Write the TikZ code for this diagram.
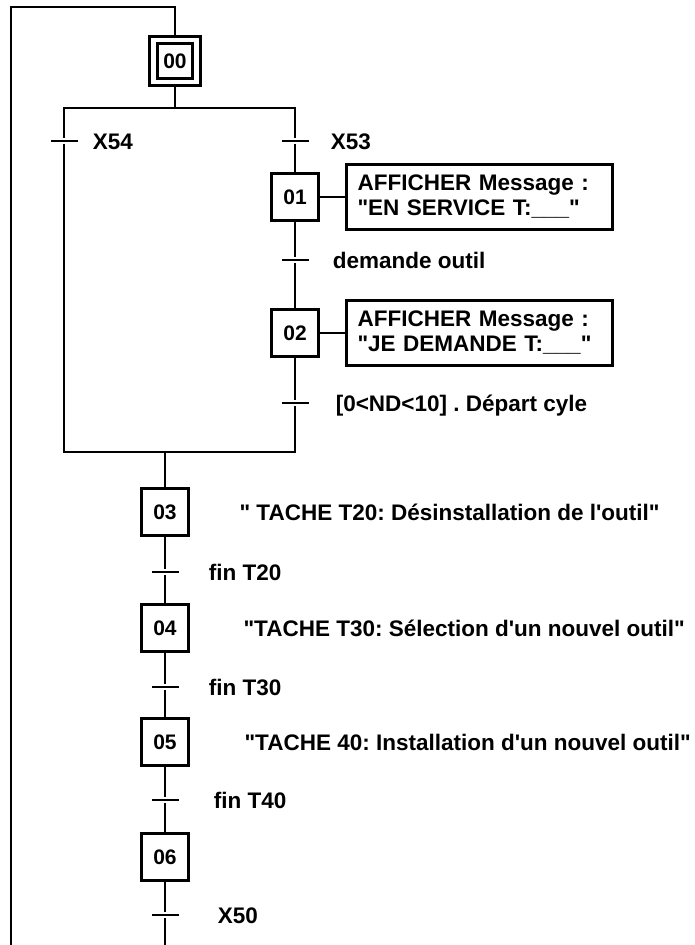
\documentclass[tikz,border=0pt]{standalone}
\usepackage{fontspec}
\newfontfamily\grafcet{Liberation Sans}
\usetikzlibrary{positioning}
\frenchspacing

\begin{document}
\begin{tikzpicture}[
  x=1pt, y=-1pt,
  font=\grafcet\fontsize{22.5}{25}\selectfont\bfseries,
  line width=2.8pt,
  etape/.style={rectangle, draw, minimum width=47.5pt, minimum height=47.5pt,
                inner sep=0pt, font=\grafcet\fontsize{21}{21}\selectfont\bfseries},
  init/.style={etape, double, double distance=4.6pt, minimum width=43pt,
               minimum height=42pt, outer sep=5.1pt},
  action/.style={rectangle, draw, align=left, text width=244pt,
                 minimum height=64pt, inner sep=11pt},
  trans/.style={rectangle, fill, minimum width=27pt, minimum height=2.8pt,
                inner sep=0pt},
  recep/.style={inner sep=0pt, text height=16pt, text depth=0pt},
  tache/.style={recep}
]
\useasboundingbox (0,0) rectangle (695,945);
\coordinate (retourH) at (11,7);
\coordinate (retourB) at (11,945);
\coordinate (divL) at (64,108);
\coordinate (divR) at (295,108);
\coordinate (convL) at (64,452);
\coordinate (convR) at (295,452);
\coordinate (fin) at (165,945);

\node[init] (s00) at (175,61) {00};
\node[trans] (t54) at (64,141) {};
\node[recep, right=12.5pt of t54] (r54) {X54};
\node[trans] (t53) at (295,141) {};
\node[recep, right=19.5pt of t53] (r53) {X53};
\node[etape] (s01) at (295,197) {01};
\node[action, right=25pt of s01] (a01) {AFFICHER Message :\\"EN SERVICE T:\_\_\_"};
\node[trans] (t1) at (295,260) {};
\node[recep, right=21.5pt of t1] (r1) {demande outil};
\node[etape] (s02) at (295,333) {02};
\node[action, right=25pt of s02] (a02) {AFFICHER Message :\\"JE DEMANDE T:\_\_\_"};
\node[trans] (t2) at (295,403) {};
\node[recep, right=24.5pt of t2] (r2) {[0<ND<10] . Départ cyle};
\node[etape] (s03) at (165,512) {03};
\node[tache, right=48pt of s03] (k03) {" TACHE T20: Désinstallation de l'outil"};
\node[trans] (t3) at (165,572) {};
\node[recep, right=27.5pt of t3] (r3) {fin T20};
\node[etape] (s04) at (165,628) {04};
\node[tache, right=52pt of s04] (k04) {"TACHE T30: Sélection d'un nouvel outil"};
\node[trans] (t4) at (165,687) {};
\node[recep, right=27.5pt of t4] (r4) {fin T30};
\node[etape] (s05) at (165,742) {05};
\node[tache, right=53pt of s05] (k05) {"TACHE 40: Installation d'un nouvel outil"};
\node[trans] (t5) at (165,800) {};
\node[recep, right=32.5pt of t5] (r5) {fin T40};
\node[etape] (s06) at (165,857) {06};
\node[trans] (t6) at (165,915) {};
\node[recep, right=36.5pt of t6] (r6) {X50};

\draw (retourB) -- (retourH) -- (retourH -| s00) -- (s00);
\draw (s00) -- (s00 |- divL);
\draw (t54) -- (divL) -- (divR) -- (t53);
\draw (t53) -- (s01) -- (t1) -- (s02) -- (t2);
\draw (t54) -- (convL) -- (convR) -- (t2);
\draw (s01) -- (a01); \draw (s02) -- (a02);
\draw (s03 |- convL) -- (s03) -- (t3) -- (s04) -- (t4) -- (s05) -- (t5) -- (s06) -- (t6) -- (fin);
\end{tikzpicture}
\end{document}
